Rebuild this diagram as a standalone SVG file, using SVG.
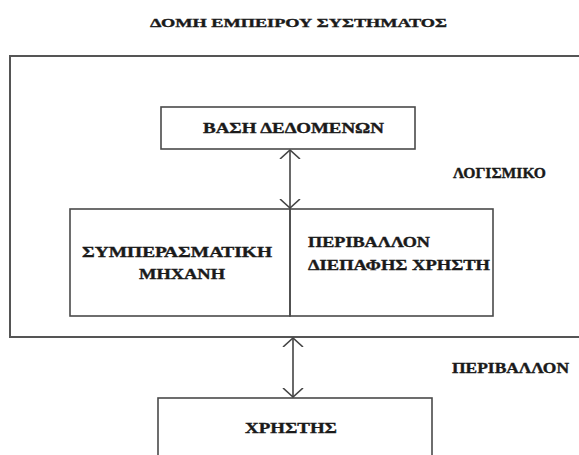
<svg xmlns="http://www.w3.org/2000/svg" width="579" height="455" viewBox="0 0 579 455">
<style>
.box{fill:none;stroke:#4a4a4a;stroke-width:1.6}
.outer{fill:none;stroke:#555;stroke-width:2}
.t{font-family:"Liberation Serif","DejaVu Serif",serif;font-weight:bold;font-size:14px;fill:#1a1a1a;stroke:#1a1a1a;stroke-width:0.35}
.title{font-size:12px}
.conn{stroke:#444;stroke-width:1.6;fill:none}
</style>
<defs>
<marker id="open" markerUnits="userSpaceOnUse" viewBox="0 0 10 22" markerWidth="10" markerHeight="22" refX="9" refY="11" orient="auto-start-reverse">
<path d="M0,1 L9,11 L0,21" fill="none" stroke="#444" stroke-width="1.6"/>
</marker>
</defs>
<rect width="579" height="455" fill="#ffffff"/>
<text class="t title" x="150" y="27" textLength="297" lengthAdjust="spacingAndGlyphs">ΔΟΜΗ ΕΜΠΕΙΡΟΥ ΣΥΣΤΗΜΑΤΟΣ</text>
<g id="software">
<rect class="outer" x="10" y="56" width="600" height="281"/>
<text class="t" x="453" y="178" textLength="93" lengthAdjust="spacingAndGlyphs">ΛΟΓΙΣΜΙΚΟ</text>
</g>
<g id="environment">
<text class="t" x="452" y="373" textLength="117" lengthAdjust="spacingAndGlyphs">ΠΕΡΙΒΑΛΛΟΝ</text>
</g>
<g id="database">
<rect class="box" x="161" y="107" width="254" height="42"/>
<text class="t" x="203" y="133" textLength="181" lengthAdjust="spacingAndGlyphs">ΒΑΣΗ ΔΕΔΟΜΕΝΩΝ</text>
</g>
<g id="inference-engine">
<rect class="box" x="70" y="209" width="220" height="107"/>
<text class="t" x="82" y="257" textLength="190" lengthAdjust="spacingAndGlyphs">ΣΥΜΠΕΡΑΣΜΑΤΙΚΗ</text>
<text class="t" x="139" y="279" textLength="86" lengthAdjust="spacingAndGlyphs">ΜΗΧΑΝΗ</text>
</g>
<g id="user-interface">
<rect class="box" x="290" y="209" width="203" height="107"/>
<text class="t" x="308" y="247" textLength="122" lengthAdjust="spacingAndGlyphs">ΠΕΡΙΒΑΛΛΟΝ</text>
<text class="t" x="308" y="270" textLength="182" lengthAdjust="spacingAndGlyphs">ΔΙΕΠΑΦΗΣ ΧΡΗΣΤΗ</text>
</g>
<g id="user">
<rect class="box" x="158" y="398" width="274" height="80"/>
<text class="t" x="245" y="433" textLength="92" lengthAdjust="spacingAndGlyphs">ΧΡΗΣΤΗΣ</text>
</g>
<g id="connectors">
<line class="conn" x1="290" y1="150" x2="290" y2="208" marker-start="url(#open)" marker-end="url(#open)"/>
<line class="conn" x1="293" y1="338" x2="293" y2="397" marker-start="url(#open)" marker-end="url(#open)"/>
</g>
</svg>
